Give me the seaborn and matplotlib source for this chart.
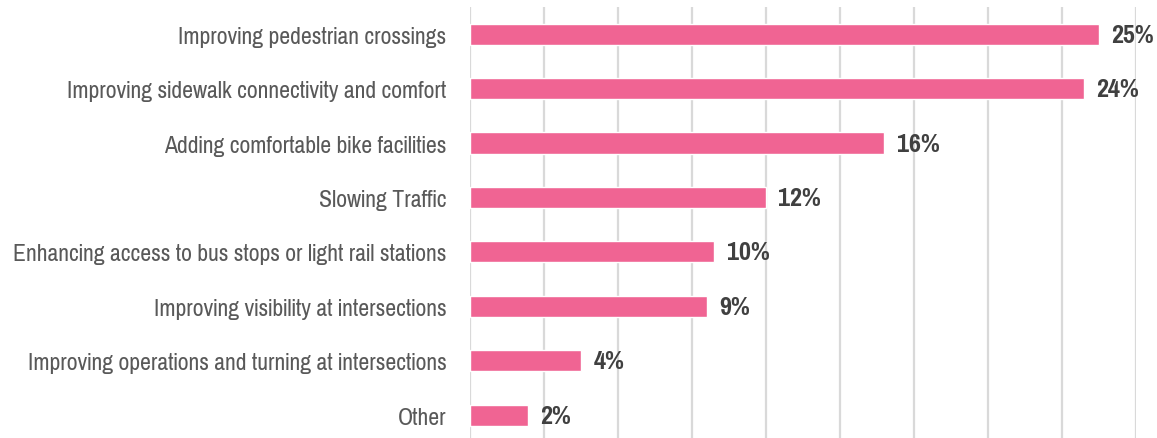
import matplotlib
matplotlib.use("Agg")
import matplotlib.pyplot as plt
import seaborn as sns
import pandas as pd

# survey priorities, bar lengths (axis in %, grid every 3%)
categories = [
    "Improving pedestrian crossings",
    "Improving sidewalk connectivity and comfort",
    "Adding comfortable bike facilities",
    "Slowing Traffic",
    "Enhancing access to bus stops or light rail stations",
    "Improving visibility at intersections",
    "Improving operations and turning at intersections",
    "Other",
]
shares = [25.5, 24.9, 16.8, 12.0, 9.9, 9.6, 4.5, 2.35]
value_labels = ["25%", "24%", "16%", "12%", "10%", "9%", "4%", "2%"]

BAR_COLOR = "#F06493"
GRID_COLOR = "#D9D9D9"

sns.set_theme(style="white")
# Arial Narrow look-alike
plt.rcParams["font.family"] = ["Pragati Narrow", "Roboto Condensed", "DejaVu Sans"]

df = pd.DataFrame({"category": categories, "share": shares})

fig = plt.figure(figsize=(11.57, 4.39), dpi=100)
ax = fig.add_axes([470 / 1157, 0.0, (1136 - 470) / 1157, 1 - 8 / 439])

sns.barplot(data=df, x="share", y="category", orient="h", color=BAR_COLOR,
            width=0.39, saturation=1, ax=ax)

ax.set_xlim(0, 27)
ax.set_ylim(7.42, -0.5)
ax.set_xticks(range(0, 28, 3))
ax.xaxis.grid(True, color=GRID_COLOR, linewidth=1.6)
ax.set_axisbelow(True)
ax.tick_params(axis="x", bottom=False, labelbottom=False)
ax.tick_params(axis="y", left=False, pad=11, labelsize=18.6, labelcolor="#595959")
ax.set_xlabel("")
ax.set_ylabel("")
for s in ax.spines.values():
    s.set_visible(False)

for i, (v, lab) in enumerate(zip(shares, value_labels)):
    ax.text(v + 0.5, i, lab, va="center", ha="left", fontsize=20.5,
            fontweight="bold", color="#404040")

fig.savefig("out.png", dpi=100)
